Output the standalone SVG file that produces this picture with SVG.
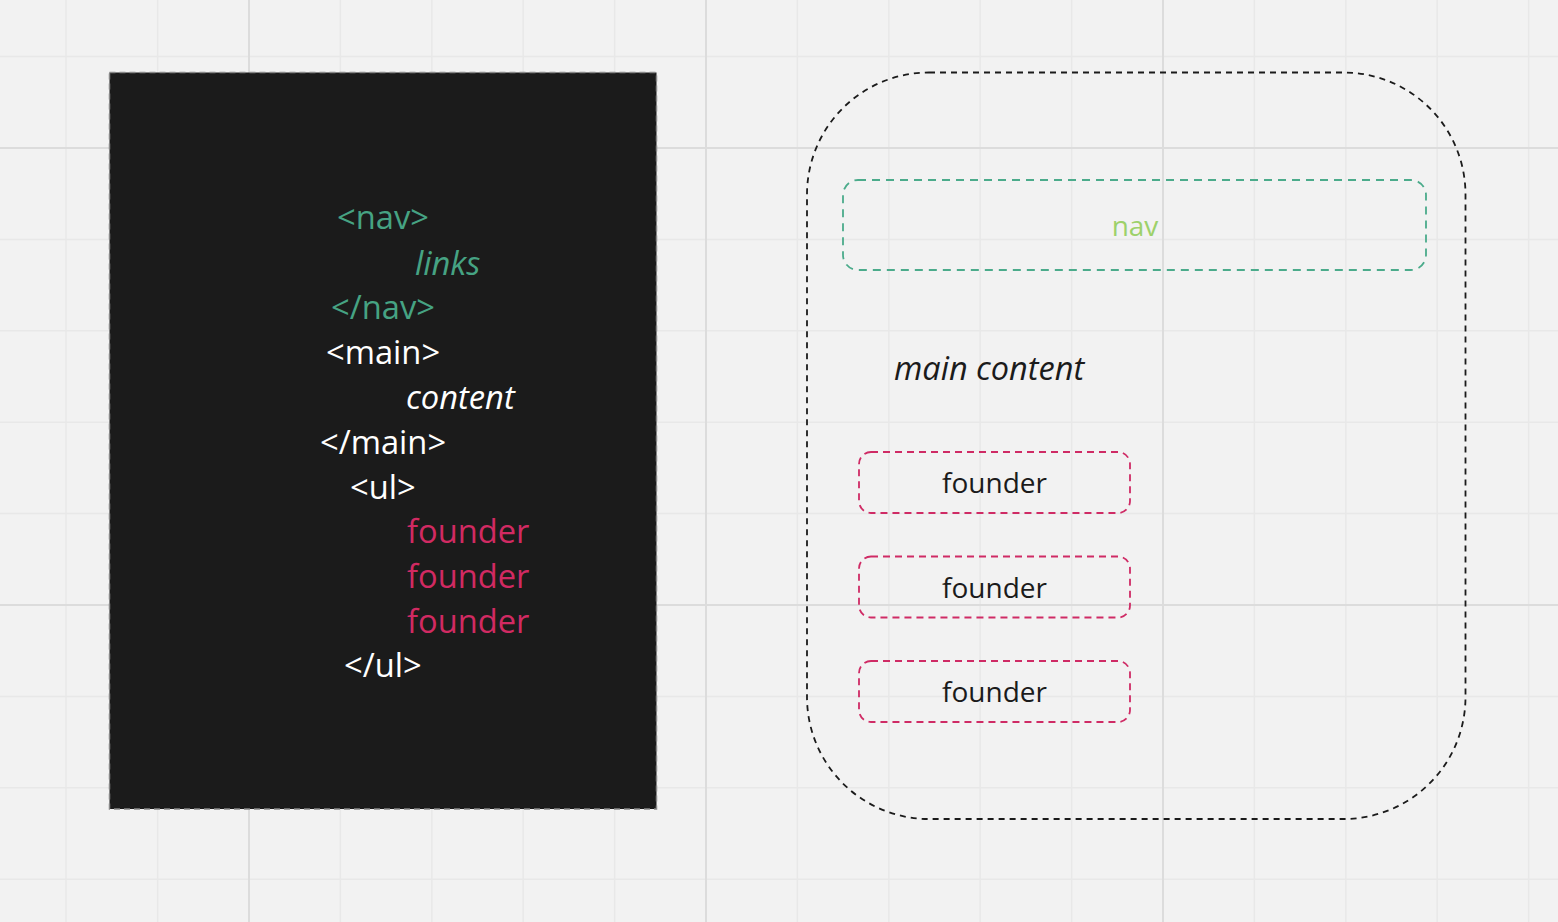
<svg xmlns="http://www.w3.org/2000/svg" width="1558" height="922" viewBox="0 0 1558 922">
<style>
.minor{stroke:#e8e8e8;stroke-width:1.5}
.major{stroke:#dcdcdc;stroke-width:2}
.code{font-family:"Open Sans","Liberation Sans",sans-serif;font-size:32.7px}
.g{fill:#46a383}
.w{fill:#ffffff}
.p{fill:#d12a62}
.it{font-style:italic}
.lbl{font-family:"Open Sans","Liberation Sans",sans-serif;font-size:28px;fill:#1b1b1b;text-anchor:middle}
.fbox{fill:none;stroke:#cf2b65;stroke-width:1.8;stroke-dasharray:7 5}
</style>
<rect width="1558" height="922" fill="#f2f2f2"/>
<g id="grid">
<g class="minor">
<line x1="66" y1="0" x2="66" y2="922"/><line x1="157.6" y1="0" x2="157.6" y2="922"/>
<line x1="340.4" y1="0" x2="340.4" y2="922"/><line x1="431.8" y1="0" x2="431.8" y2="922"/>
<line x1="523.2" y1="0" x2="523.2" y2="922"/><line x1="614.6" y1="0" x2="614.6" y2="922"/>
<line x1="797.4" y1="0" x2="797.4" y2="922"/><line x1="888.8" y1="0" x2="888.8" y2="922"/>
<line x1="980.2" y1="0" x2="980.2" y2="922"/><line x1="1071.6" y1="0" x2="1071.6" y2="922"/>
<line x1="1254.4" y1="0" x2="1254.4" y2="922"/><line x1="1345.8" y1="0" x2="1345.8" y2="922"/>
<line x1="1437.2" y1="0" x2="1437.2" y2="922"/><line x1="1528.6" y1="0" x2="1528.6" y2="922"/>
<line x1="0" y1="56.6" x2="1558" y2="56.6"/><line x1="0" y1="239.4" x2="1558" y2="239.4"/>
<line x1="0" y1="330.8" x2="1558" y2="330.8"/><line x1="0" y1="422.2" x2="1558" y2="422.2"/>
<line x1="0" y1="513.6" x2="1558" y2="513.6"/><line x1="0" y1="696.4" x2="1558" y2="696.4"/>
<line x1="0" y1="787.8" x2="1558" y2="787.8"/><line x1="0" y1="879.2" x2="1558" y2="879.2"/>
</g>
<g class="major">
<line x1="249" y1="0" x2="249" y2="922"/><line x1="706" y1="0" x2="706" y2="922"/><line x1="1163" y1="0" x2="1163" y2="922"/>
<line x1="0" y1="148" x2="1558" y2="148"/><line x1="0" y1="605" x2="1558" y2="605"/>
</g>
</g>
<g id="code-panel">
<rect x="109.5" y="72.5" width="547" height="736.5" fill="#1b1b1b" stroke="#888" stroke-width="1.5" stroke-dasharray="6 4"/>
<text class="code g" x="337" y="229">&lt;nav&gt;</text>
<text class="code g it" x="415" y="275">links</text>
<text class="code g" x="331" y="319">&lt;/nav&gt;</text>
<text class="code w" x="326" y="364">&lt;main&gt;</text>
<text class="code w it" x="406" y="409">content</text>
<text class="code w" x="320" y="454">&lt;/main&gt;</text>
<text class="code w" x="350" y="499">&lt;ul&gt;</text>
<text class="code p" x="407" y="543">founder</text>
<text class="code p" x="407" y="588">founder</text>
<text class="code p" x="407" y="633">founder</text>
<text class="code w" x="344" y="677">&lt;/ul&gt;</text>
</g>
<g id="page">
<rect x="807" y="72.5" width="658.5" height="746.5" rx="122" ry="122" fill="none" stroke="#1b1b1b" stroke-width="1.8" stroke-dasharray="6 5"/>
</g>
<g id="nav">
<rect x="843" y="180" width="583" height="90" rx="15" fill="none" stroke="#4bab8b" stroke-width="1.8" stroke-dasharray="8 6"/>
<text x="1135" y="236" font-family="Open Sans, Liberation Sans, sans-serif" font-size="28" fill="#9dd16a" text-anchor="middle">nav</text>
</g>
<g id="main">
<text x="894" y="380" font-family="Open Sans, Liberation Sans, sans-serif" font-size="32.5" font-style="italic" fill="#1b1b1b">main content</text>
</g>
<g id="founder1">
<rect class="fbox" x="859" y="452" width="271" height="61" rx="12"/>
<text class="lbl" x="994.5" y="493">founder</text>
</g>
<g id="founder2">
<rect class="fbox" x="859" y="556.5" width="271" height="61" rx="12"/>
<text class="lbl" x="994.5" y="598">founder</text>
</g>
<g id="founder3">
<rect class="fbox" x="859" y="661" width="271" height="61" rx="12"/>
<text class="lbl" x="994.5" y="702">founder</text>
</g>
<g id="connectors"></g>
</svg>
